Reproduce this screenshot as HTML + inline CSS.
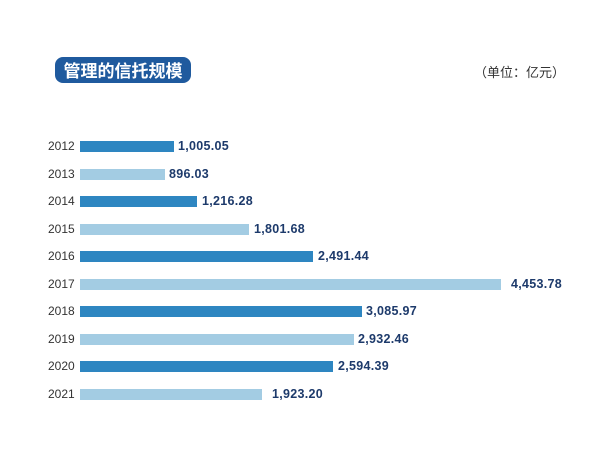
<!DOCTYPE html>
<html><head><meta charset="utf-8"><style>
body{margin:0;width:600px;height:450px;background:#fff;position:relative;overflow:hidden;font-family:"Liberation Sans","Noto Sans CJK SC",sans-serif}
.t{position:absolute;left:55px;top:57px;width:136px;height:26px;background:#1f5a9e;border-radius:8px;color:#fff;font-weight:bold;font-size:17px;line-height:26px;text-align:center;font-family:"Noto Sans CJK SC",sans-serif}
.u{position:absolute;left:474px;top:62px;font-size:13px;color:#333;font-family:"Noto Sans CJK SC",sans-serif}
.y{position:absolute;left:48px;font-size:12px;color:#333}
.b{position:absolute;left:80px;height:11px}
.v{position:absolute;font-size:12.5px;font-weight:bold;color:#1d3a6b;letter-spacing:0.3px}
</style></head><body>
<div class="t">管理的信托规模</div>
<div class="u">（单位：亿元）</div>
<div class="y" style="top:139px">2012</div><div class="b" style="top:141px;width:94px;background:#2e86c1"></div><div class="v" style="left:178px;top:139px">1,005.05</div>
<div class="y" style="top:167px">2013</div><div class="b" style="top:169px;width:85px;background:#a3cce3"></div><div class="v" style="left:169px;top:167px">896.03</div>
<div class="y" style="top:194px">2014</div><div class="b" style="top:196px;width:117px;background:#2e86c1"></div><div class="v" style="left:202px;top:194px">1,216.28</div>
<div class="y" style="top:222px">2015</div><div class="b" style="top:224px;width:169px;background:#a3cce3"></div><div class="v" style="left:254px;top:222px">1,801.68</div>
<div class="y" style="top:249px">2016</div><div class="b" style="top:251px;width:233px;background:#2e86c1"></div><div class="v" style="left:318px;top:249px">2,491.44</div>
<div class="y" style="top:277px">2017</div><div class="b" style="top:279px;width:421px;background:#a3cce3"></div><div class="v" style="left:511px;top:277px">4,453.78</div>
<div class="y" style="top:304px">2018</div><div class="b" style="top:306px;width:282px;background:#2e86c1"></div><div class="v" style="left:366px;top:304px">3,085.97</div>
<div class="y" style="top:332px">2019</div><div class="b" style="top:334px;width:274px;background:#a3cce3"></div><div class="v" style="left:358px;top:332px">2,932.46</div>
<div class="y" style="top:359px">2020</div><div class="b" style="top:361px;width:253px;background:#2e86c1"></div><div class="v" style="left:338px;top:359px">2,594.39</div>
<div class="y" style="top:387px">2021</div><div class="b" style="top:389px;width:182px;background:#a3cce3"></div><div class="v" style="left:272px;top:387px">1,923.20</div>
</body></html>
